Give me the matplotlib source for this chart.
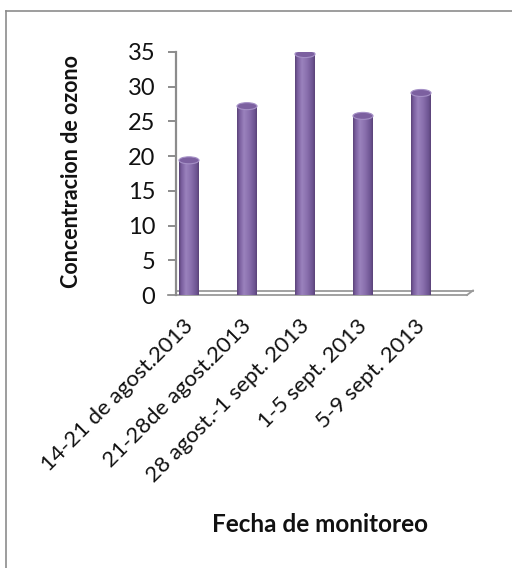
import numpy as np
import matplotlib
matplotlib.use("Agg")
import matplotlib.pyplot as plt
from matplotlib.colors import LinearSegmentedColormap
from matplotlib.patches import Ellipse
from matplotlib.lines import Line2D
from matplotlib.transforms import ScaledTranslation

plt.rcParams['font.family'] = ['Lato', 'DejaVu Sans']

# Data
periodos = ["14-21 de agost.2013", "21-28de agost.2013", "28 agost.-1 sept. 2013",
            "1-5 sept. 2013", "5-9 sept. 2013"]
ozono = [19.4, 27.2, 34.7, 25.8, 29.1]
yticks = [0, 5, 10, 15, 20, 25, 30, 35]

W, H, DPI = 512, 568, 100
fig = plt.figure(figsize=(W / DPI, H / DPI), dpi=DPI)
fig.patch.set_facecolor("white")

# axes placed in pixel terms
ax_l, ax_r, ax_t, ax_b = 176, 470, 52, 295
ax = fig.add_axes([ax_l / W, 1 - ax_b / H, (ax_r - ax_l) / W, (ax_b - ax_t) / H])
ax.set_facecolor("none")

x = np.arange(len(periodos))
px_per_unit = 58.0
xlim = (-(189 - ax_l) / px_per_unit, (ax_r - 189) / px_per_unit)

bar_w = 20 / px_per_unit
cap_h = 7 / ((ax_b - ax_t) / 35)

# cylinder shading
cyl = LinearSegmentedColormap.from_list(
    "cyl", [(0.0, "#5b4479"), (0.12, "#7a5e9e"), (0.35, "#9a82bd"),
            (0.6, "#8a70ae"), (0.88, "#6e5593"), (1.0, "#5a4378")])
grad = np.linspace(0, 1, 64).reshape(1, -1)

bars = ax.bar(x, ozono, width=bar_w, color="#8064a2", edgecolor="none", zorder=3)
for rect, v in zip(bars, ozono):
    x0 = rect.get_x()
    xc = x0 + rect.get_width() / 2
    # body
    im = ax.imshow(grad, cmap=cyl, aspect="auto", extent=(x0, x0 + bar_w, -cap_h, v),
                   zorder=4, interpolation="bilinear")
    im.set_clip_path(rect)
    # rounded bottom
    bot = Ellipse((xc, 0), bar_w, cap_h, facecolor="none", edgecolor="none",
                  transform=ax.transData)
    ax.add_patch(bot)
    im2 = ax.imshow(grad, cmap=cyl, aspect="auto", extent=(x0, x0 + bar_w, -cap_h, v),
                    zorder=4, interpolation="bilinear")
    im2.set_clip_path(bot)
    # top cap
    ax.add_patch(Ellipse((xc, v), bar_w, cap_h, facecolor="#7c60a0",
                         edgecolor="#a590c6", linewidth=0.8, zorder=5))
ax.set_xlim(*xlim)
ax.set_ylim(0, 35)

# axes styling
for s in ["top", "right", "bottom"]:
    ax.spines[s].set_visible(False)
ax.spines["left"].set_color("#8c8c8c")
ax.spines["left"].set_linewidth(1.6)
ax.set_yticks(yticks)
ax.tick_params(axis="y", direction="out", length=6, width=1.4, color="#8c8c8c",
               labelsize=17, labelcolor="#111111", pad=9)
ax.set_xticks(x)
ax.set_xticklabels(periodos, rotation=45, ha="right", va="top",
                   rotation_mode="anchor", fontsize=16, color="#111111")
ax.tick_params(axis="x", length=0, pad=15)
shift = ScaledTranslation(-6 / DPI, 0, fig.dpi_scale_trans)
for lbl in ax.get_xticklabels():
    lbl.set_transform(lbl.get_transform() + shift)

# floor of the plot
fl = dict(color="#9a9a9a", linewidth=1.3, transform=ax.transAxes, clip_on=False, zorder=2)
aw, ah = ax_r - ax_l, ax_b - ax_t
x_lo0, x_lo1 = (168 - ax_l) / aw, (467 - ax_l) / aw
x_up0, x_up1 = 0.0, (473 - ax_l) / aw
y_up = (ax_b - 290.5) / ah
ax.add_line(Line2D([x_lo0, x_lo1], [0, 0], **fl))
ax.add_line(Line2D([x_up0, x_up1], [y_up, y_up], **fl))
ax.add_line(Line2D([x_lo1, x_up1], [0, y_up], **fl))

# axis titles
fig.text(71 / W, 1 - 171 / H, "Concentracion de ozono", rotation=90,
         ha="center", va="center", fontsize=15.5, fontweight="bold", color="#111111")
fig.text(320 / W, 1 - 525 / H, "Fecha de monitoreo", ha="center", va="center",
         fontsize=17.5, fontweight="bold", color="#111111")

# chart frame
frame = dict(color="#8c8c8c", linewidth=1.2, transform=fig.transFigure)
fig.add_artist(Line2D([6 / W, 1], [1 - 11 / H, 1 - 11 / H], **frame))
fig.add_artist(Line2D([6 / W, 6 / W], [0, 1 - 11 / H], **frame))

fig.savefig("out.png", dpi=DPI)
